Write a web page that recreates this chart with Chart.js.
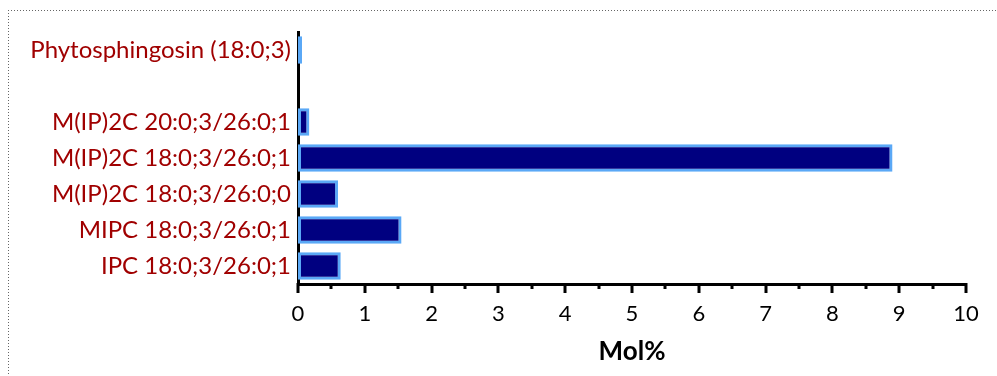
<!DOCTYPE html>
<html>
<head>
<meta charset="utf-8">
<script src="https://cdn.jsdelivr.net/npm/chart.js@4"></script>
<style>
  html, body { margin: 0; padding: 0; background: #fff; }
  #wrap { position: relative; width: 997px; height: 376px; overflow: hidden; }
  canvas { position: absolute; left: 0; top: 0; }
  .dots-h { position: absolute; left: 8px; top: 10px; right: 0; height: 1px;
            background: repeating-linear-gradient(to right, #666 0 1px, transparent 1px 3px); }
  .dots-v { position: absolute; left: 8px; top: 10px; bottom: 0; width: 1px;
            background: repeating-linear-gradient(to bottom, #666 0 1px, transparent 1px 3px); }
</style>
</head>
<body>
<div id="wrap">
  <canvas id="c" width="997" height="376"></canvas>
  <div class="dots-h"></div>
  <div class="dots-v"></div>
</div>
<script>
// Sphingolipid species (top to bottom); the blank entry is a spacer row
const categories = [
  'Phytosphingosin (18:0;3)',
  '',
  'M(IP)2C 20:0;3/26:0;1',
  'M(IP)2C 18:0;3/26:0;1',
  'M(IP)2C 18:0;3/26:0;0',
  'MIPC 18:0;3/26:0;1',
  'IPC 18:0;3/26:0;1'
];
// Amount of each species, Mol%
const molPercent = [0.06, null, 0.17, 8.9, 0.6, 1.55, 0.64];
const xMin = 0, xMax = 10;

// Major (integer) and minor (half-step) tick marks below the value axis
const tickMarks = {
  id: 'tickMarks',
  afterDraw(chart) {
    const x = chart.scales.x, ctx = chart.ctx, y0 = x.top;
    ctx.save();
    ctx.strokeStyle = '#000';
    ctx.lineWidth = 3;
    ctx.lineCap = 'butt';
    for (let v = xMin; v <= xMax + 1e-9; v += 0.5) {
      const px = Math.round(x.getPixelForValue(v));
      const len = Number.isInteger(v) ? 9 : 5;
      ctx.beginPath();
      ctx.moveTo(px, y0 - 1);
      ctx.lineTo(px, y0 + len);
      ctx.stroke();
    }
    ctx.restore();
  }
};

new Chart(document.getElementById('c'), {
  type: 'bar',
  data: {
    labels: categories,
    datasets: [{
      data: molPercent,
      backgroundColor: '#000080',
      borderColor: '#5aa8f6',
      borderWidth: 3,
      borderSkipped: false,
      barPercentage: 0.76,
      categoryPercentage: 1
    }]
  },
  options: {
    indexAxis: 'y',
    responsive: false,
    animation: false,
    layout: { padding: { top: 32, right: 31, left: 0, bottom: 0 } },
    plugins: { legend: { display: false }, tooltip: { enabled: false } },
    scales: {
      x: {
        min: xMin, max: xMax,
        ticks: {
          stepSize: 1,
          color: '#000',
          padding: 17,
          font: { family: 'Lato', size: 22 }
        },
        grid: { display: false, drawTicks: false },
        border: { display: true, color: '#000', width: 3 },
        title: {
          display: true,
          text: 'Mol%',
          color: '#000',
          font: { family: 'Lato', size: 26, weight: 'bold' },
          padding: { top: 4, bottom: 9 }
        },
        afterFit(s) { s.height = 92; }
      },
      y: {
        ticks: {
          color: '#a00000',
          padding: 7,
          font: { family: 'Lato', size: 24 }
        },
        grid: { display: false, drawTicks: false },
        border: { display: true, color: '#000', width: 3 },
        afterFit(s) { s.width = 298; }
      }
    }
  },
  plugins: [tickMarks]
});
</script>
</body>
</html>
